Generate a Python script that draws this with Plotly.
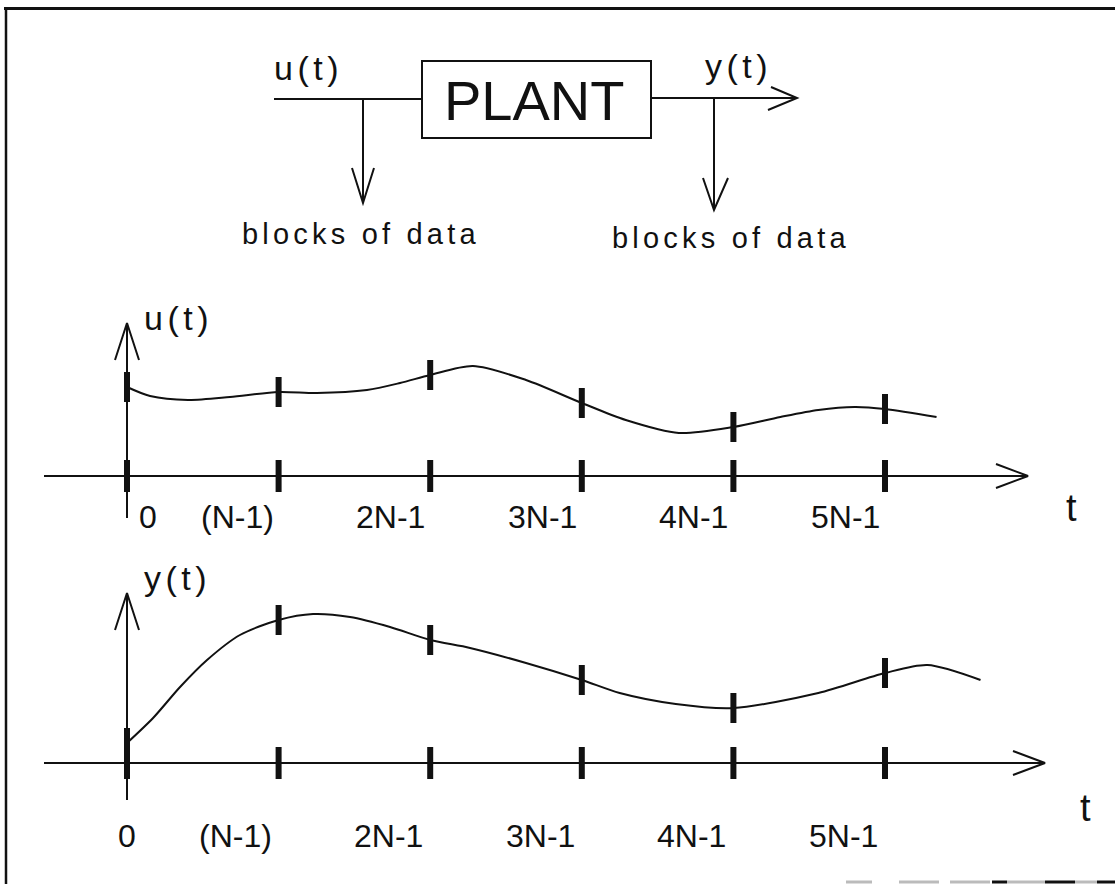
import numpy as np
import plotly.graph_objects as go

# ---------------- data ----------------
block_index = [0, 1, 2, 3, 4, 5]
tick_labels = ["0", "(N-1)", "2N-1", "3N-1", "4N-1", "5N-1"]

# input signal u(t): time in block units, amplitude in arbitrary units
u_time = [0, 0.152, 0.402, 0.679, 1.0, 1.253, 1.583, 1.801, 2.0, 2.282,
          2.632, 3.0, 3.29, 3.64, 4.0, 4.31, 4.56, 4.8, 5.0, 5.34]
u_vals = [0.89, 0.80, 0.76, 0.79, 0.84, 0.83, 0.86, 0.93, 1.01, 1.10,
          0.96, 0.73, 0.56, 0.43, 0.49, 0.59, 0.66, 0.69, 0.67, 0.59]

# output signal y(t)
y_time = [0, 0.172, 0.35, 0.528, 0.745, 1.0, 1.227, 1.471, 1.735, 2.0,
          2.263, 2.632, 3.0, 3.25, 3.62, 4.0, 4.56, 5.0, 5.28, 5.63]
y_vals = [0.20, 0.45, 0.76, 1.03, 1.28, 1.43, 1.49, 1.46, 1.36, 1.23,
          1.15, 1.00, 0.83, 0.70, 0.59, 0.55, 0.70, 0.90, 0.98, 0.83]

# ---------------- layout geometry ----------------
W, H = 1115, 884
X0_PX = 127.0        # pixel of t = 0
BLOCK_PX = 151.6     # pixels per block
U_AXIS_PX = 476.0    # pixel row of the u(t) time axis
Y_AXIS_PX = 763.0    # pixel row of the y(t) time axis
UNIT_PX = 100.0      # pixels per amplitude unit

FONT = "Liberation Sans, Arial, sans-serif"
BLACK = "#111111"

x_range = [-X0_PX / BLOCK_PX, (W - X0_PX) / BLOCK_PX]
u_range = [(U_AXIS_PX - H) / UNIT_PX, U_AXIS_PX / UNIT_PX]
y_range = [(Y_AXIS_PX - H) / UNIT_PX, Y_AXIS_PX / UNIT_PX]

dxw = 12 / BLOCK_PX   # arrow wing half-width (time units)
dyw = 37 / UNIT_PX    # arrow wing length (amplitude units)
dxh = 32 / BLOCK_PX
dyh = 12 / UNIT_PX

fig = go.Figure()


def lines(xs, ys, yaxis, width=2):
    fig.add_trace(go.Scatter(x=xs, y=ys, mode="lines", xaxis="x", yaxis=yaxis,
                             line=dict(color=BLACK, width=width),
                             hoverinfo="skip", showlegend=False))


def signal_panel(times, vals, yaxis, v_axis_lo, v_axis_hi, h_axis_hi):
    # signal curve
    fig.add_trace(go.Scatter(x=times, y=vals, mode="lines", xaxis="x", yaxis=yaxis,
                             line=dict(color=BLACK, width=2, shape="spline", smoothing=0.8),
                             hoverinfo="skip", showlegend=False))
    # vertical amplitude axis with open arrowhead
    lines([0, 0], [v_axis_lo, v_axis_hi], yaxis)
    lines([-dxw, 0, dxw], [v_axis_hi - dyw, v_axis_hi, v_axis_hi - dyw], yaxis)
    # horizontal time axis with open arrowhead
    lines([-83 / BLOCK_PX, h_axis_hi], [0, 0], yaxis)
    lines([h_axis_hi - dxh, h_axis_hi, h_axis_hi - dxh], [dyh, 0, -dyh], yaxis)
    # block-boundary marks on the curve and on the axis
    on_curve = np.interp(block_index, times, vals)
    xs, ys = [], []
    for k, v in zip(block_index, on_curve):
        xs += [k, k, None, k, k, None]
        ys += [v - 0.15, v + 0.15, None, -0.16, 0.16, None]
    lines(xs, ys, yaxis, width=6)


signal_panel(u_time, u_vals, "y", -0.42, 1.53, (1028 - X0_PX) / BLOCK_PX)
signal_panel(y_time, y_vals, "y2", -0.37, 1.70, (1045 - X0_PX) / BLOCK_PX)

ann = []


def text(x, y, s, size, xref="x", yref="y", xanchor="center", yanchor="middle",
         xshift=0, yshift=0, spacing=0):
    if spacing:
        s = '<span style="letter-spacing:%.1fpx">%s</span>' % (spacing, s)
    ann.append(dict(x=x, y=y, xref=xref, yref=yref, text=s, showarrow=False,
                    xanchor=xanchor, yanchor=yanchor, xshift=xshift, yshift=yshift,
                    font=dict(family=FONT, size=size, color=BLACK)))


# tick labels
for k, lab in zip(block_index, tick_labels):
    if k == 0:
        text(k, 0, lab, 32, yref="y", xanchor="left", xshift=10, yshift=-41)
        text(k, 0, lab, 32, yref="y2", xanchor="center", yshift=-73)
    else:
        text(k, 0, lab, 32, yref="y", xanchor="right", xshift=-3, yshift=-41)
        text(k, 0, lab, 32, yref="y2", xanchor="right", xshift=-5, yshift=-73)

# axis names
text(0.1, 1.58, "u(t)", 34, yref="y", xanchor="left", spacing=4.5)
text(0.1, 1.85, "y(t)", 34, yref="y2", xanchor="left", spacing=4.5)
text((1071 - X0_PX) / BLOCK_PX, -0.32, "t", 38, yref="y")
text((1085 - X0_PX) / BLOCK_PX, -0.45, "t", 38, yref="y2")

# ---------------- block diagram (pixel coordinates) ----------------
shapes = []


def pshape(path, width=2):
    shapes.append(dict(type="path", path=path, xref="x2", yref="y3",
                       line=dict(color=BLACK, width=width)))


pshape("M422,61 L651,61 L651,138 L422,138 Z")              # PLANT box
pshape("M274,99 L422,99")                                   # input line
pshape("M651,98 L797,98 M771,87 L797,98 L768,110")          # output arrow
pshape("M363,99 L363,203 M352,168 L363,203 L374,168")       # tap on u(t)
pshape("M714,98 L714,210 M703,178 L714,210 L728,178")       # tap on y(t)

text(534, 100, "PLANT", 56, xref="x2", yref="y3")
text(272, 68, "u(t)", 34, xref="x2", yref="y3", xanchor="left", spacing=4.5)
text(703, 66, "y(t)", 34, xref="x2", yref="y3", xanchor="left", spacing=4.5)
text(240, 234, "blocks of data", 29, xref="x2", yref="y3", xanchor="left", spacing=4.2)
text(610, 238, "blocks of data", 29, xref="x2", yref="y3", xanchor="left", spacing=4.2)

# page frame
pshape("M4,8.5 L1115,8.5", width=3)
pshape("M6,7 L6,884", width=2.5)
# ragged scanned bottom edge
scan_edge_gray = [(846, 872), (899, 939), (950, 990), (1007, 1045), (1075, 1097)]
scan_edge_dark = [(992, 1007), (1045, 1075), (1097, 1115)]
for a, b in scan_edge_gray:
    shapes.append(dict(type="line", x0=a, x1=b, y0=882, y1=882, xref="x2", yref="y3",
                       line=dict(color="#bbbbbb", width=3)))
for a, b in scan_edge_dark:
    shapes.append(dict(type="line", x0=a, x1=b, y0=882, y1=882, xref="x2", yref="y3",
                       line=dict(color=BLACK, width=3)))

hidden = dict(visible=False, showgrid=False, zeroline=False, fixedrange=True)
fig.update_layout(
    width=W, height=H, autosize=False,
    margin=dict(l=0, r=0, t=0, b=0, pad=0),
    paper_bgcolor="white", plot_bgcolor="white",
    showlegend=False,
    xaxis=dict(range=x_range, domain=[0, 1], **hidden),
    xaxis2=dict(range=[0, W], overlaying="x", **hidden),
    yaxis=dict(range=u_range, domain=[0, 1], **hidden),
    yaxis2=dict(range=y_range, overlaying="y", **hidden),
    yaxis3=dict(range=[H, 0], overlaying="y", **hidden),
    shapes=shapes,
    annotations=ann,
)

fig.write_html("out.html", config={"displayModeBar": False, "staticPlot": True},
               post_script="document.body.style.margin='0';document.body.style.overflow='hidden';")
